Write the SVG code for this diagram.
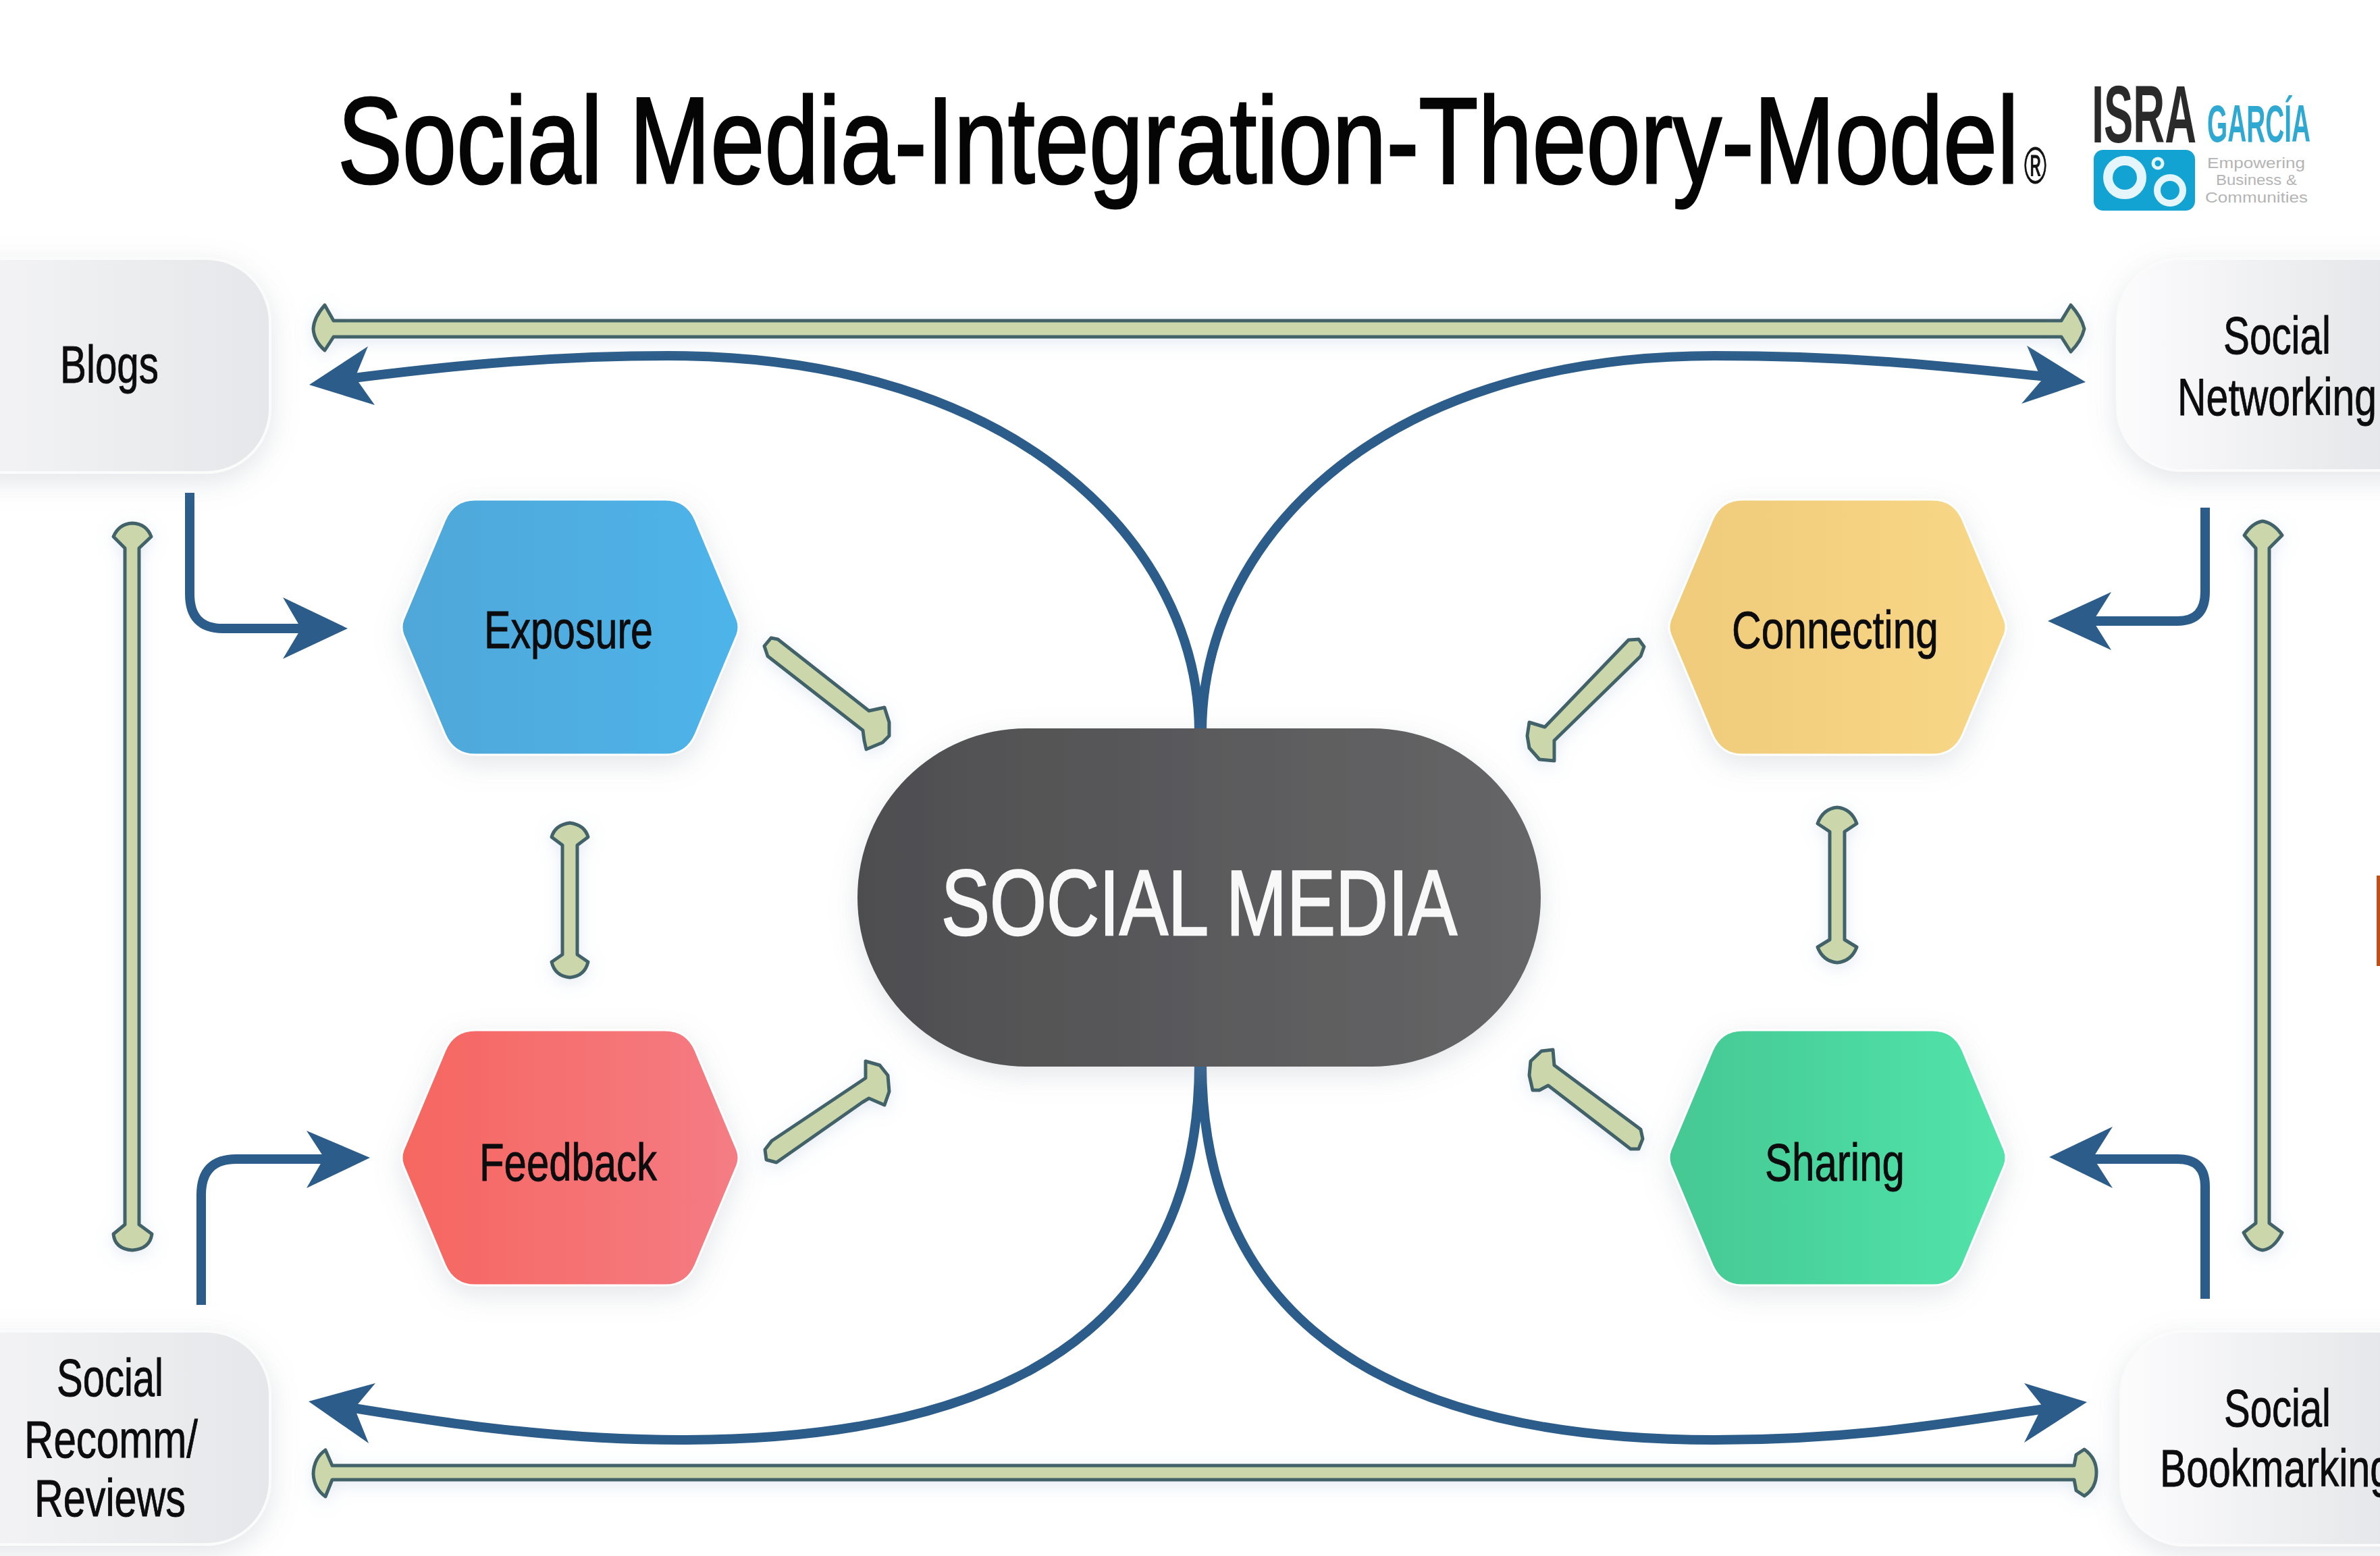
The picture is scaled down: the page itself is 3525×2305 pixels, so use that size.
<svg xmlns="http://www.w3.org/2000/svg" width="3525" height="2305" viewBox="0 0 3525 2305">
<defs>
<style>
text{font-family:"Liberation Sans",Arial,sans-serif}
.t{font-size:78px;fill:#0c0c0e;stroke:#0c0c0e;stroke-width:.9}
.big{stroke:#2c5d8a;stroke-width:14;fill:none}
.elbow{stroke:#2c5d8a;stroke-width:14;fill:none}
.head{fill:#2c5d8a}
.g{fill:#cbd7aa;stroke:#43626a;stroke-width:5;stroke-linejoin:round}
.box{stroke:#fbfbfc;stroke-width:4}
.hex{stroke:#fff;stroke-width:3}
.small{font-size:22px;fill:#b4b4b4}
</style>
<filter id="sh" x="-20%" y="-20%" width="140%" height="150%"><feDropShadow dx="0" dy="12" stdDeviation="20" flood-color="#8d93a0" flood-opacity=".24"/></filter>
<filter id="gl" x="-20%" y="-50%" width="140%" height="200%"><feDropShadow dx="0" dy="6" stdDeviation="12" flood-color="#a9c0d8" flood-opacity=".3"/></filter>
<linearGradient id="bL" x1="0" x2="1"><stop offset="0" stop-color="#f6f6f8"/><stop offset="1" stop-color="#e6e7ea"/></linearGradient>
<linearGradient id="bR" x1="0" x2="1"><stop offset="0" stop-color="#fcfcfd"/><stop offset="1" stop-color="#dfe0e4"/></linearGradient>
<linearGradient id="pill" x1="0" x2="1"><stop offset="0" stop-color="#4e4e50"/><stop offset="1" stop-color="#666668"/></linearGradient>
<linearGradient id="hE" x1="0" x2="1"><stop offset="0" stop-color="#50a7d8"/><stop offset="1" stop-color="#4eb4ea"/></linearGradient>
<linearGradient id="hC" x1="0" x2="1"><stop offset="0" stop-color="#efcb7a"/><stop offset="1" stop-color="#f8d788"/></linearGradient>
<linearGradient id="hF" x1="0" x2="1"><stop offset="0" stop-color="#f66660"/><stop offset="1" stop-color="#f47c84"/></linearGradient>
<linearGradient id="hS" x1="0" x2="1"><stop offset="0" stop-color="#45c893"/><stop offset="1" stop-color="#52e4aa"/></linearGradient>
<path id="hexp" d="M1 178L63 30Q76 0 108 0H389Q421 0 434 30L496 178Q500 189 496 200L434 348Q421 378 389 378H108Q76 378 63 348L1 200Q-3 189 1 178Z"/>
</defs>
<rect width="3525" height="2305" fill="#fff"/>

<g id="title">
<text x="500" y="271" font-size="181" fill="#050505" stroke="#050505" stroke-width="3" textLength="2490" lengthAdjust="spacingAndGlyphs">Social Media-Integration-Theory-Model</text>
<text x="2998" y="271" font-size="76" fill="#111" stroke="#111" stroke-width="1" textLength="33" lengthAdjust="spacingAndGlyphs">®</text>
</g>

<g id="logo">
<text x="3098" y="211" font-size="120" font-weight="bold" fill="#2a2a2a" textLength="155" lengthAdjust="spacingAndGlyphs">ISRA</text>
<text x="3269" y="210" font-size="77" font-weight="bold" fill="#2fa9d2" textLength="153" lengthAdjust="spacingAndGlyphs">GARCÍA</text>
<rect x="3101" y="222" width="150" height="90" rx="14" fill="#12a3d2"/>
<circle cx="3147" cy="263" r="25" fill="none" stroke="#e4f6fb" stroke-width="14"/>
<circle cx="3214" cy="282" r="19" fill="none" stroke="#e4f6fb" stroke-width="10"/>
<circle cx="3196" cy="242" r="7" fill="none" stroke="#e4f6fb" stroke-width="5"/>
<text class="small" x="3269" y="249" textLength="145" lengthAdjust="spacingAndGlyphs">Empowering</text>
<text class="small" x="3282" y="274" textLength="120" lengthAdjust="spacingAndGlyphs">Business &amp;</text>
<text class="small" x="3266" y="300" textLength="152" lengthAdjust="spacingAndGlyphs">Communities</text>
</g>

<g id="connectors">
<path class="big" d="M1776 1085C1776 810 1510 527 990 527C800 527 640 545 500 563"/>
<path class="big" d="M1780 1085C1780 810 2030 527 2540 527C2760 527 2900 545 3050 560"/>
<path class="big" d="M1776 1575C1776 1890 1590 2133 1010 2133C810 2133 640 2105 500 2082"/>
<path class="big" d="M1780 1575C1780 1890 1970 2133 2540 2133C2760 2133 2900 2105 3050 2084"/>
<polygon class="head" points="458,570 545,513 526,559 555,600"/>
<polygon class="head" points="3089,566 3002,512 3024,563 2994,598"/>
<polygon class="head" points="457,2076 556,2049 525,2086 546,2138"/>
<polygon class="head" points="3091,2077 2998,2049 3025,2083 2998,2137"/>

<path class="elbow" d="M281 730V880Q281 931 330 931H470"/>
<polygon class="head" points="515,931 419,885 446,931 419,976"/>
<path class="elbow" d="M298 1933V1770Q298 1717 350 1717H500"/>
<polygon class="head" points="548,1715 454,1675 480,1715 454,1760"/>
<path class="elbow" d="M3266 752V877Q3266 920 3225 920H3080"/>
<polygon class="head" points="3033,920 3127,877 3100,920 3127,963"/>
<path class="elbow" d="M3266 1924V1757Q3266 1717 3225 1717H3080"/>
<polygon class="head" points="3035,1714 3129,1669 3100,1715 3129,1760"/>

<g filter="url(#gl)">
<path class="g" d="M494 475H3053L3067 452Q3083 470 3087 487Q3083 505 3067 521L3053 499H494L481 519Q465 505 464 487Q465 470 481 452Z"/>
<path class="g" d="M492 2171H3072L3075 2155L3087 2147Q3105 2160 3105 2181Q3105 2205 3087 2216L3075 2208L3072 2192H492L482 2217Q465 2205 464 2183Q465 2160 482 2148Z"/>
<path class="g" d="M185 812L168 795Q176 776 196 775Q217 776 224 795L206 812V1814L225 1828Q222 1850 196 1852Q170 1850 168 1828L185 1814Z"/>
<path class="g" d="M3341 812L3324 793Q3335 775 3351 772Q3368 775 3380 793L3361 812V1812L3380 1826Q3368 1850 3351 1852Q3335 1850 3323 1826L3341 1812Z"/>
<path class="g" d="M833 1252L817 1240Q822 1222 844 1219Q866 1222 871 1240L855 1252V1414L871 1425Q866 1446 844 1448Q822 1446 817 1425L833 1414Z"/>
<path class="g" d="M2710 1232L2692 1220Q2700 1198 2721 1196Q2742 1198 2750 1220L2732 1232V1392L2750 1403Q2742 1424 2721 1426Q2700 1424 2692 1403L2710 1392Z"/>
<path class="g" d="M1152 947L1287 1053L1310 1048L1317 1070V1090L1307 1100L1283 1110L1280 1097L1278 1082L1137 972L1132 957L1142 945Z"/>
<path class="g" d="M1133 1703L1135 1718L1150 1722L1277 1633L1287 1627L1310 1637L1317 1617L1315 1593L1303 1578L1282 1572V1597L1143 1690Z"/>
<path class="g" d="M2412 948L2427 947L2435 958L2430 972L2302 1097V1127L2280 1125L2265 1108L2262 1090L2265 1070L2288 1077Z"/>
<path class="g" d="M2300 1555L2302 1578L2430 1673L2433 1687L2427 1702L2415 1702L2293 1608L2280 1615L2270 1615L2265 1593L2267 1572L2283 1557Z"/>
</g>
</g>

<g id="blogs"><rect class="box" x="-120" y="383" width="520" height="317" rx="95" fill="url(#bL)" filter="url(#sh)"/>
<text class="t" x="89" y="567" textLength="146" lengthAdjust="spacingAndGlyphs">Blogs</text></g>
<g id="social-networking"><rect class="box" x="3136" y="383" width="520" height="314" rx="95" fill="url(#bR)" filter="url(#sh)"/>
<text class="t" x="3293" y="524" textLength="159" lengthAdjust="spacingAndGlyphs">Social</text>
<text class="t" x="3225" y="615" textLength="295" lengthAdjust="spacingAndGlyphs">Networking</text></g>
<g id="social-recomm"><rect class="box" x="-120" y="1972" width="520" height="316" rx="95" fill="url(#bL)" filter="url(#sh)"/>
<text class="t" x="84" y="2068" textLength="158" lengthAdjust="spacingAndGlyphs">Social</text>
<text class="t" x="36" y="2159" textLength="257" lengthAdjust="spacingAndGlyphs">Recomm/</text>
<text class="t" x="51" y="2246" textLength="224" lengthAdjust="spacingAndGlyphs">Reviews</text></g>
<g id="social-bookmarking"><rect class="box" x="3141" y="1972" width="520" height="317" rx="95" fill="url(#bR)" filter="url(#sh)"/>
<text class="t" x="3294" y="2113" textLength="158" lengthAdjust="spacingAndGlyphs">Social</text>
<text class="t" x="3199" y="2202" textLength="344" lengthAdjust="spacingAndGlyphs">Bookmarking</text></g>

<g id="exposure"><use href="#hexp" class="hex" x="596" y="740" fill="url(#hE)" filter="url(#sh)"/>
<text class="t" x="717" y="960" textLength="250" lengthAdjust="spacingAndGlyphs">Exposure</text></g>
<g id="feedback"><use href="#hexp" class="hex" x="596" y="1526" fill="url(#hF)" filter="url(#sh)"/>
<text class="t" x="710" y="1749" textLength="263" lengthAdjust="spacingAndGlyphs">Feedback</text></g>
<g id="connecting"><use href="#hexp" class="hex" x="2473" y="740" fill="url(#hC)" filter="url(#sh)"/>
<text class="t" x="2565" y="960" textLength="306" lengthAdjust="spacingAndGlyphs">Connecting</text></g>
<g id="sharing"><use href="#hexp" class="hex" x="2473" y="1526" fill="url(#hS)" filter="url(#sh)"/>
<text class="t" x="2614" y="1749" textLength="207" lengthAdjust="spacingAndGlyphs">Sharing</text></g>

<g id="social-media"><rect x="1270" y="1079" width="1012" height="501" rx="250" fill="url(#pill)" filter="url(#sh)"/>
<text x="1394" y="1385" font-size="138" fill="#f8f8f8" stroke="#f8f8f8" stroke-width="2.5" textLength="764" lengthAdjust="spacingAndGlyphs">SOCIAL MEDIA</text></g>

<rect id="edge-mark" x="3520" y="1297" width="5" height="134" fill="#c0501a"/>
</svg>
